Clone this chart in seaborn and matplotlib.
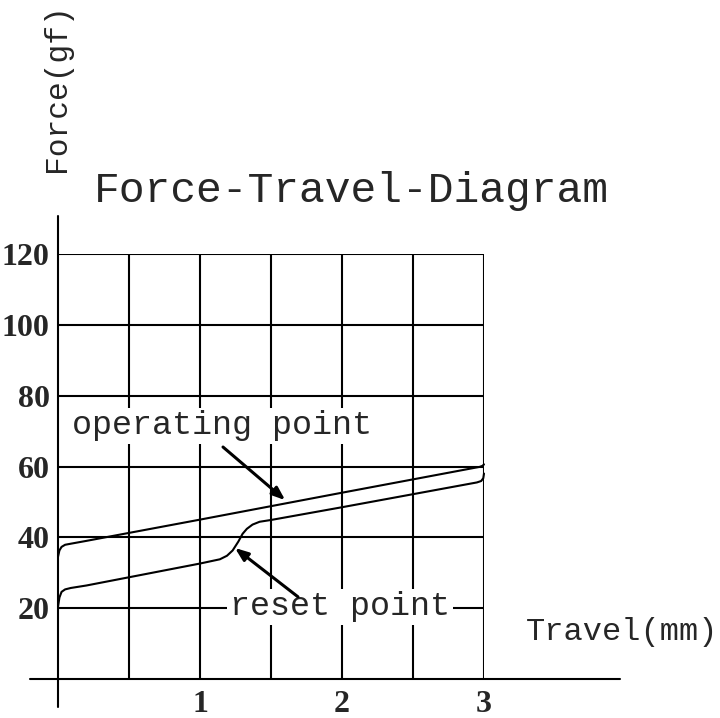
import matplotlib
matplotlib.use("Agg")
import matplotlib.pyplot as plt
import seaborn as sns
import pandas as pd

# ---- data ----
op_travel = [0.0, 0.01, 0.025, 0.05, 0.09, 0.2, 1.0, 2.0, 2.97, 2.99, 3.0]
op_force = [34.5, 36.3, 37.3, 37.9, 38.2, 39.0, 45.0, 52.6, 59.9, 60.2, 60.6]

rs_travel = [0.0, 0.01, 0.025, 0.05, 0.09, 0.2, 1.0, 1.14, 1.19, 1.23, 1.27, 1.30,
             1.33, 1.37, 1.42, 1.5, 2.0, 2.95, 2.98, 2.995, 3.0]
rs_force = [20.4, 23.0, 24.6, 25.3, 25.7, 26.4, 32.6, 33.8, 34.8, 36.3, 38.8, 41.0,
            42.4, 43.6, 44.4, 44.9, 48.5, 55.5, 55.9, 56.7, 58.0]

x_grid = [0.5, 1.0, 1.5, 2.0, 2.5, 3.0]
y_grid = [20, 40, 60, 80, 100, 120]
x_tick_vals = [1, 2, 3]
x_tick_labels = ["1", "2", "3"]
y_tick_labels = ["20", "40", "60", "80", "100", "120"]

title = "Force-Travel-Diagram"
x_label = "Travel(mm)"
y_label = "Force(gf)"
op_label = "operating point"
rs_label = "reset point"

sns.set_theme(style="white")
plt.rcParams["font.family"] = ["Liberation Mono", "DejaVu Sans"]

W, H = 720, 718
fig = plt.figure(figsize=(W / 100, H / 100), dpi=100)
ax = fig.add_axes([58 / W, (H - 679) / H, 426 / W, 425 / H])
ax.set_xlim(0, 3)
ax.set_ylim(0, 120)
for s in ax.spines.values():
    s.set_visible(False)

lw = 1.5
# grid
ax.vlines(x_grid, 0, 120, color="black", lw=lw, zorder=1)
ax.hlines(y_grid, 0, 3, color="black", lw=lw, zorder=1)
# axes lines
ax.plot([-0.197, 3.958], [0, 0], color="black", lw=lw, clip_on=False, zorder=1)
ax.plot([0, 0], [-7.9, 130.7], color="black", lw=lw, clip_on=False, zorder=1)

df_op = pd.DataFrame({"travel": op_travel, "force": op_force})
df_rs = pd.DataFrame({"travel": rs_travel, "force": rs_force})
sns.lineplot(data=df_op, x="travel", y="force", color="black", lw=lw, ax=ax,
             sort=False, estimator=None, clip_on=False, zorder=2)
sns.lineplot(data=df_rs, x="travel", y="force", color="black", lw=lw, ax=ax,
             sort=False, estimator=None, clip_on=False, zorder=2)

ax.set_xlabel("")
ax.set_ylabel("")
ax.set_xticks(x_tick_vals, x_tick_labels)
ax.set_yticks(y_grid, y_tick_labels)
for lab in ax.get_xticklabels() + ax.get_yticklabels():
    lab.set_fontfamily("Liberation Serif")
    lab.set_fontweight("bold")
    lab.set_fontsize(23)
ax.tick_params(axis="both", length=0)
ax.tick_params(axis="y", pad=6)
ax.tick_params(axis="x", pad=8)

# annotations
txt_bbox = dict(facecolor="white", edgecolor="none", pad=2)
ax.text(1.155, 71.5, op_label, fontsize=24, ha="center", va="center",
        bbox=txt_bbox, zorder=3)
ax.text(1.986, 20.4, rs_label, fontsize=24, ha="center", va="center",
        bbox=txt_bbox, zorder=3)
ax.annotate("", xy=(1.60, 50.5), xytext=(1.162, 65.5),
            arrowprops=dict(arrowstyle="-|>,head_length=0.65,head_width=0.25",
                            color="black", lw=2.2, shrinkA=0, shrinkB=0), zorder=4)
ax.annotate("", xy=(1.246, 37.0), xytext=(1.69, 23.2),
            arrowprops=dict(arrowstyle="-|>,head_length=0.65,head_width=0.25",
                            color="black", lw=2.2, shrinkA=0, shrinkB=0), zorder=4)

# title and axis labels (pixel positions)
fig.text(351 / W, 1 - 191 / H, title, fontsize=31, ha="center", va="center")
fig.text(622 / W, 1 - 632 / H, x_label, fontsize=23, ha="center", va="center")
fig.text(57 / W, 1 - 88 / H, y_label, fontsize=22.5, ha="center", va="center",
         rotation=90)

fig.savefig("out.png", dpi=100, facecolor="white")
